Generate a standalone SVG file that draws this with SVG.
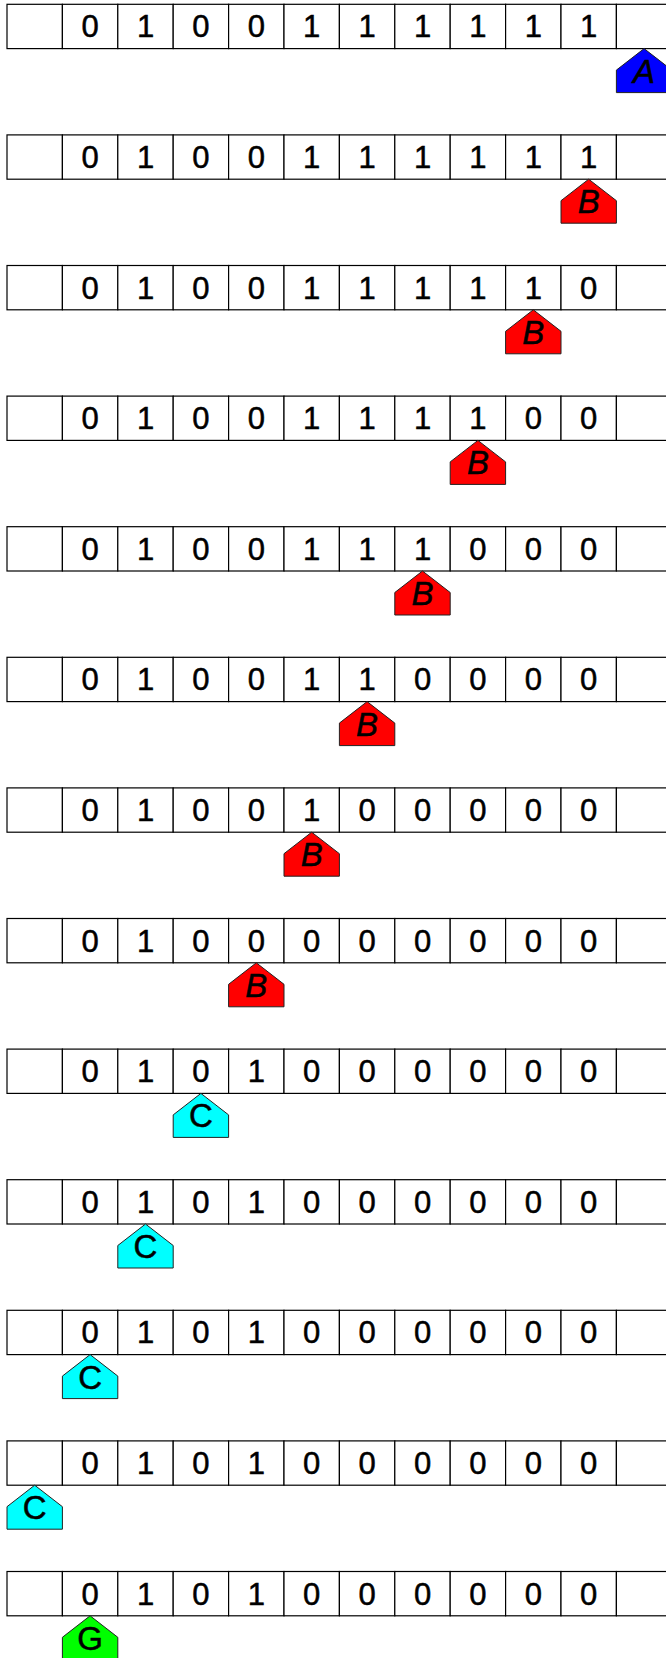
<svg xmlns="http://www.w3.org/2000/svg" xmlns:xlink="http://www.w3.org/1999/xlink" width="666" height="1658" viewBox="0 0 666 1658">
<style>
.cell{fill:#fff;stroke:#000;stroke-width:1.2}
.d{font-family:"Liberation Sans",Arial,sans-serif;font-size:31px;fill:#000;stroke:#000;stroke-width:0.5;text-anchor:middle}
.h{font-family:"Liberation Sans",Arial,sans-serif;font-size:33px;fill:#000;stroke:#000;stroke-width:0.5;text-anchor:middle}
.hi{font-style:italic}
.head{stroke:#222;stroke-width:1}
.A{fill:#0000ff}.B{fill:#ff0000}.C{fill:#00ffff}.G{fill:#00ff00}
</style>
<defs>
<g id="tape">
<rect class="cell" x="7" y="0" width="55.4" height="44.3"/>
<rect class="cell" x="62.4" y="0" width="55.4" height="44.3"/>
<rect class="cell" x="117.8" y="0" width="55.4" height="44.3"/>
<rect class="cell" x="173.2" y="0" width="55.4" height="44.3"/>
<rect class="cell" x="228.6" y="0" width="55.4" height="44.3"/>
<rect class="cell" x="284" y="0" width="55.4" height="44.3"/>
<rect class="cell" x="339.4" y="0" width="55.4" height="44.3"/>
<rect class="cell" x="394.8" y="0" width="55.4" height="44.3"/>
<rect class="cell" x="450.2" y="0" width="55.4" height="44.3"/>
<rect class="cell" x="505.6" y="0" width="55.4" height="44.3"/>
<rect class="cell" x="561" y="0" width="55.4" height="44.3"/>
<rect class="cell" x="616.4" y="0" width="55.4" height="44.3"/>
</g>
<polygon id="headshape" points="27.7,0 55.4,21.5 55.4,44 0,44 0,21.5"/>
</defs>

<g id="row0" transform="translate(0,4.3)">
<use xlink:href="#tape"/>
<text class="d" x="90.1" y="33.2">0</text><text class="d" x="145.5" y="33.2">1</text><text class="d" x="200.9" y="33.2">0</text><text class="d" x="256.3" y="33.2">0</text><text class="d" x="311.7" y="33.2">1</text><text class="d" x="367.1" y="33.2">1</text><text class="d" x="422.5" y="33.2">1</text><text class="d" x="477.9" y="33.2">1</text><text class="d" x="533.3" y="33.2">1</text><text class="d" x="588.7" y="33.2">1</text>
<g id="head0" transform="translate(616.4,44.3)"><use xlink:href="#headshape" class="head A"/><text class="h hi" x="27.7" y="34">A</text></g>
</g>

<g id="row1" transform="translate(0,134.9)">
<use xlink:href="#tape"/>
<text class="d" x="90.1" y="33.2">0</text><text class="d" x="145.5" y="33.2">1</text><text class="d" x="200.9" y="33.2">0</text><text class="d" x="256.3" y="33.2">0</text><text class="d" x="311.7" y="33.2">1</text><text class="d" x="367.1" y="33.2">1</text><text class="d" x="422.5" y="33.2">1</text><text class="d" x="477.9" y="33.2">1</text><text class="d" x="533.3" y="33.2">1</text><text class="d" x="588.7" y="33.2">1</text>
<g id="head1" transform="translate(561,44.3)"><use xlink:href="#headshape" class="head B"/><text class="h hi" x="27.7" y="34">B</text></g>
</g>

<g id="row2" transform="translate(0,265.5)">
<use xlink:href="#tape"/>
<text class="d" x="90.1" y="33.2">0</text><text class="d" x="145.5" y="33.2">1</text><text class="d" x="200.9" y="33.2">0</text><text class="d" x="256.3" y="33.2">0</text><text class="d" x="311.7" y="33.2">1</text><text class="d" x="367.1" y="33.2">1</text><text class="d" x="422.5" y="33.2">1</text><text class="d" x="477.9" y="33.2">1</text><text class="d" x="533.3" y="33.2">1</text><text class="d" x="588.7" y="33.2">0</text>
<g id="head2" transform="translate(505.6,44.3)"><use xlink:href="#headshape" class="head B"/><text class="h hi" x="27.7" y="34">B</text></g>
</g>

<g id="row3" transform="translate(0,396.1)">
<use xlink:href="#tape"/>
<text class="d" x="90.1" y="33.2">0</text><text class="d" x="145.5" y="33.2">1</text><text class="d" x="200.9" y="33.2">0</text><text class="d" x="256.3" y="33.2">0</text><text class="d" x="311.7" y="33.2">1</text><text class="d" x="367.1" y="33.2">1</text><text class="d" x="422.5" y="33.2">1</text><text class="d" x="477.9" y="33.2">1</text><text class="d" x="533.3" y="33.2">0</text><text class="d" x="588.7" y="33.2">0</text>
<g id="head3" transform="translate(450.2,44.3)"><use xlink:href="#headshape" class="head B"/><text class="h hi" x="27.7" y="34">B</text></g>
</g>

<g id="row4" transform="translate(0,526.7)">
<use xlink:href="#tape"/>
<text class="d" x="90.1" y="33.2">0</text><text class="d" x="145.5" y="33.2">1</text><text class="d" x="200.9" y="33.2">0</text><text class="d" x="256.3" y="33.2">0</text><text class="d" x="311.7" y="33.2">1</text><text class="d" x="367.1" y="33.2">1</text><text class="d" x="422.5" y="33.2">1</text><text class="d" x="477.9" y="33.2">0</text><text class="d" x="533.3" y="33.2">0</text><text class="d" x="588.7" y="33.2">0</text>
<g id="head4" transform="translate(394.8,44.3)"><use xlink:href="#headshape" class="head B"/><text class="h hi" x="27.7" y="34">B</text></g>
</g>

<g id="row5" transform="translate(0,657.3)">
<use xlink:href="#tape"/>
<text class="d" x="90.1" y="33.2">0</text><text class="d" x="145.5" y="33.2">1</text><text class="d" x="200.9" y="33.2">0</text><text class="d" x="256.3" y="33.2">0</text><text class="d" x="311.7" y="33.2">1</text><text class="d" x="367.1" y="33.2">1</text><text class="d" x="422.5" y="33.2">0</text><text class="d" x="477.9" y="33.2">0</text><text class="d" x="533.3" y="33.2">0</text><text class="d" x="588.7" y="33.2">0</text>
<g id="head5" transform="translate(339.4,44.3)"><use xlink:href="#headshape" class="head B"/><text class="h hi" x="27.7" y="34">B</text></g>
</g>

<g id="row6" transform="translate(0,787.9)">
<use xlink:href="#tape"/>
<text class="d" x="90.1" y="33.2">0</text><text class="d" x="145.5" y="33.2">1</text><text class="d" x="200.9" y="33.2">0</text><text class="d" x="256.3" y="33.2">0</text><text class="d" x="311.7" y="33.2">1</text><text class="d" x="367.1" y="33.2">0</text><text class="d" x="422.5" y="33.2">0</text><text class="d" x="477.9" y="33.2">0</text><text class="d" x="533.3" y="33.2">0</text><text class="d" x="588.7" y="33.2">0</text>
<g id="head6" transform="translate(284,44.3)"><use xlink:href="#headshape" class="head B"/><text class="h hi" x="27.7" y="34">B</text></g>
</g>

<g id="row7" transform="translate(0,918.5)">
<use xlink:href="#tape"/>
<text class="d" x="90.1" y="33.2">0</text><text class="d" x="145.5" y="33.2">1</text><text class="d" x="200.9" y="33.2">0</text><text class="d" x="256.3" y="33.2">0</text><text class="d" x="311.7" y="33.2">0</text><text class="d" x="367.1" y="33.2">0</text><text class="d" x="422.5" y="33.2">0</text><text class="d" x="477.9" y="33.2">0</text><text class="d" x="533.3" y="33.2">0</text><text class="d" x="588.7" y="33.2">0</text>
<g id="head7" transform="translate(228.6,44.3)"><use xlink:href="#headshape" class="head B"/><text class="h hi" x="27.7" y="34">B</text></g>
</g>

<g id="row8" transform="translate(0,1049.1)">
<use xlink:href="#tape"/>
<text class="d" x="90.1" y="33.2">0</text><text class="d" x="145.5" y="33.2">1</text><text class="d" x="200.9" y="33.2">0</text><text class="d" x="256.3" y="33.2">1</text><text class="d" x="311.7" y="33.2">0</text><text class="d" x="367.1" y="33.2">0</text><text class="d" x="422.5" y="33.2">0</text><text class="d" x="477.9" y="33.2">0</text><text class="d" x="533.3" y="33.2">0</text><text class="d" x="588.7" y="33.2">0</text>
<g id="head8" transform="translate(173.2,44.3)"><use xlink:href="#headshape" class="head C"/><text class="h" x="27.7" y="34">C</text></g>
</g>

<g id="row9" transform="translate(0,1179.7)">
<use xlink:href="#tape"/>
<text class="d" x="90.1" y="33.2">0</text><text class="d" x="145.5" y="33.2">1</text><text class="d" x="200.9" y="33.2">0</text><text class="d" x="256.3" y="33.2">1</text><text class="d" x="311.7" y="33.2">0</text><text class="d" x="367.1" y="33.2">0</text><text class="d" x="422.5" y="33.2">0</text><text class="d" x="477.9" y="33.2">0</text><text class="d" x="533.3" y="33.2">0</text><text class="d" x="588.7" y="33.2">0</text>
<g id="head9" transform="translate(117.8,44.3)"><use xlink:href="#headshape" class="head C"/><text class="h" x="27.7" y="34">C</text></g>
</g>

<g id="row10" transform="translate(0,1310.3)">
<use xlink:href="#tape"/>
<text class="d" x="90.1" y="33.2">0</text><text class="d" x="145.5" y="33.2">1</text><text class="d" x="200.9" y="33.2">0</text><text class="d" x="256.3" y="33.2">1</text><text class="d" x="311.7" y="33.2">0</text><text class="d" x="367.1" y="33.2">0</text><text class="d" x="422.5" y="33.2">0</text><text class="d" x="477.9" y="33.2">0</text><text class="d" x="533.3" y="33.2">0</text><text class="d" x="588.7" y="33.2">0</text>
<g id="head10" transform="translate(62.4,44.3)"><use xlink:href="#headshape" class="head C"/><text class="h" x="27.7" y="34">C</text></g>
</g>

<g id="row11" transform="translate(0,1440.9)">
<use xlink:href="#tape"/>
<text class="d" x="90.1" y="33.2">0</text><text class="d" x="145.5" y="33.2">1</text><text class="d" x="200.9" y="33.2">0</text><text class="d" x="256.3" y="33.2">1</text><text class="d" x="311.7" y="33.2">0</text><text class="d" x="367.1" y="33.2">0</text><text class="d" x="422.5" y="33.2">0</text><text class="d" x="477.9" y="33.2">0</text><text class="d" x="533.3" y="33.2">0</text><text class="d" x="588.7" y="33.2">0</text>
<g id="head11" transform="translate(7,44.3)"><use xlink:href="#headshape" class="head C"/><text class="h" x="27.7" y="34">C</text></g>
</g>

<g id="row12" transform="translate(0,1571.5)">
<use xlink:href="#tape"/>
<text class="d" x="90.1" y="33.2">0</text><text class="d" x="145.5" y="33.2">1</text><text class="d" x="200.9" y="33.2">0</text><text class="d" x="256.3" y="33.2">1</text><text class="d" x="311.7" y="33.2">0</text><text class="d" x="367.1" y="33.2">0</text><text class="d" x="422.5" y="33.2">0</text><text class="d" x="477.9" y="33.2">0</text><text class="d" x="533.3" y="33.2">0</text><text class="d" x="588.7" y="33.2">0</text>
<g id="head12" transform="translate(62.4,44.3)"><use xlink:href="#headshape" class="head G"/><text class="h" x="27.7" y="34">G</text></g>
</g>
</svg>
